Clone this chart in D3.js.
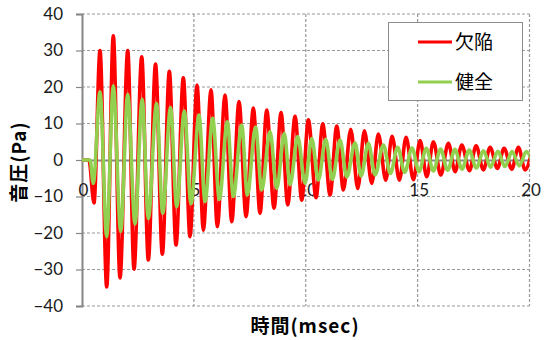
<!DOCTYPE html>
<html>
<head>
<meta charset="utf-8">
<script src="https://cdn.jsdelivr.net/npm/d3@7"></script>
<style>
  html, body { margin: 0; padding: 0; background: #fff; }
  svg { display: block; }
  .tick-label { font-family: Lato, "Noto Sans", sans-serif; font-size: 17px; fill: #1a1a1a; }
  .title { font-family: "Noto Sans CJK JP", sans-serif; font-weight: bold; font-size: 19px; fill: #000; }
  .legend-text { font-family: "Noto Sans CJK JP", sans-serif; font-size: 19px; fill: #000; }
</style>
</head>
<body>
<svg id="chart" width="547" height="340"></svg>
<script>
// Sound pressure waveforms: extrema (time in msec, pressure in Pa)
const defectTime = [0, 0.31, 0.536, 0.805, 1.104, 1.399, 1.699, 2.043, 2.325, 2.669, 2.964, 3.286, 3.590, 3.903, 4.202, 4.528, 4.828, 5.141, 5.423, 5.767, 6.048, 6.393, 6.692, 7.018, 7.331, 7.658, 7.957, 8.257, 8.583, 8.896, 9.195, 9.522, 9.821, 10.116, 10.460, 10.760, 11.086, 11.386, 11.681, 12.012, 12.325, 12.620, 12.951, 13.245, 13.576, 13.858, 14.184, 14.484, 14.810, 15.110, 15.409, 15.704, 16.035, 16.375, 16.674, 16.974, 17.314, 17.613, 17.940, 18.239, 18.565, 18.865, 19.209, 19.504, 19.803, 20.10];
const defectValue = [0, 0, -11.8, 30, -34.8, 34, -32.3, 30, -29.9, 28.3, -27.4, 26.3, -25.8, 24.3, -23.3, 22.5, -21, 20.5, -19.2, 19.2, -18.3, 17.8, -16.9, 16, -15.5, 14.2, -14.6, 13.7, -13.2, 13, -12.3, 12, -11, 11, -10.3, 9.9, -9.6, 9.3, -8.2, 8.4, -7.8, 8, -6.4, 7.1, -5.5, 6.5, -5.5, 6.2, -5.4, 5.3, -4.6, 5, -4.1, 4.6, -3.2, 4.1, -2.9, 3.9, -2.7, 3.5, -2.3, 3.2, -2.5, 3.5, -2.7, 2.3];

const soundTime = [0, 0.36, 0.505, 0.805, 1.104, 1.399, 1.730, 2.043, 2.369, 2.691, 2.964, 3.330, 3.608, 3.956, 4.233, 4.573, 4.873, 5.230, 5.498, 5.843, 6.138, 6.495, 6.764, 7.139, 7.389, 7.756, 8.033, 8.404, 8.704, 9.043, 9.298, 9.642, 9.969, 10.268, 10.563, 10.894, 11.189, 11.533, 11.833, 12.204, 12.472, 12.798, 13.098, 13.469, 13.786, 14.108, 14.426, 14.748, 15.065, 15.387, 15.704, 16.026, 16.343, 16.665, 16.983, 17.305, 17.622, 17.944, 18.261, 18.583, 18.900, 19.222, 19.540, 19.861, 20.16];
const soundValue = [0, 0, -6.4, 18.7, -21, 20.3, -19.6, 18, -17.5, 16.6, -16, 15.5, -14.6, 14.4, -12.8, 13.4, -12, 12.3, -11.4, 11.4, -10.8, 10.5, -10, 9.6, -9.6, 9, -8.2, 7.8, -7.8, 7.3, -6.8, 6.4, -6.4, 5.9, -5.5, 5.7, -5.3, 5.5, -4.7, 4.7, -4.4, 4.6, -4.1, 4.1, -3.7, 3.5, -3.4, 3.3, -3.2, 3.2, -3.0, 3.0, -2.8, 2.9, -2.5, 2.7, -2.2, 2.5, -2.0, 2.4, -1.8, 2.3, -1.6, 2.3, -1.5];

const xTicks = [0, 5, 10, 15, 20];
const yTicks = [-40, -30, -20, -10, 0, 10, 20, 30, 40];
const seriesNames = ["欠陥", "健全"];
const seriesColors = ["#ff0000", "#92d050"];
const xTitle = "時間(msec)";
const yTitle = "音圧(Pa)";

const svg = d3.select("#chart");
const plotL = 82, plotR = 529.5, plotT = 14, plotB = 306;

const x = d3.scaleLinear().domain([0, 20]).range([plotL, plotR]);
const y = d3.scaleLinear().domain([-40, 40]).range([plotB, plotT]);

// dashed grid (including outer frame)
const grid = svg.append("g");
grid.selectAll("line.h").data(yTicks.filter(d => d !== 0)).join("line")
  .attr("x1", plotL).attr("x2", plotR)
  .attr("y1", d => y(d)).attr("y2", d => y(d))
  .attr("stroke", "#9a9a9a").attr("stroke-width", 1.2).attr("stroke-dasharray", "3,2");
grid.selectAll("line.v").data(xTicks.filter(d => d !== 0)).join("line")
  .attr("x1", d => x(d)).attr("x2", d => x(d))
  .attr("y1", plotT).attr("y2", plotB)
  .attr("stroke", "#9a9a9a").attr("stroke-width", 1.2).attr("stroke-dasharray", "3,2");

// y axis with outward ticks
const yAxis = svg.append("g").attr("transform", `translate(${plotL},0)`)
  .call(d3.axisLeft(y).tickValues(yTicks).tickSize(6).tickPadding(13));
yAxis.select(".domain").attr("stroke", "#868686").attr("stroke-width", 2);
yAxis.selectAll(".tick line").attr("stroke", "#868686").attr("stroke-width", 1.2);
yAxis.selectAll(".tick text").attr("class", "tick-label").attr("fill", null);

// zero line carrying the time labels
const xAxis = svg.append("g").attr("transform", `translate(0,${y(0)})`)
  .call(d3.axisBottom(x).tickValues(xTicks).tickSize(0).tickPadding(24));
xAxis.select(".domain").attr("stroke", "#868686").attr("stroke-width", 2);
xAxis.selectAll(".tick text").attr("class", "tick-label").attr("fill", null).attr("dx", 1);

// waveforms
svg.append("clipPath").attr("id", "plot-clip").append("rect")
  .attr("x", plotL).attr("y", plotT - 4).attr("width", plotR - plotL).attr("height", plotB - plotT + 8);

const lineGen = d3.line().x(d => x(d[0])).y(d => y(d[1])).curve(d3.curveMonotoneX);
const series = [
  d3.zip(defectTime, defectValue),
  d3.zip(soundTime, soundValue)
];
const plot = svg.append("g").attr("clip-path", "url(#plot-clip)");
series.forEach((pts, i) => {
  plot.append("path").datum(pts)
    .attr("d", lineGen)
    .attr("fill", "none")
    .attr("stroke", seriesColors[i])
    .attr("stroke-width", 3.6)
    .attr("stroke-linejoin", "round");
});

// legend
const lg = svg.append("g");
lg.append("rect").attr("x", 388.5).attr("y", 22.5).attr("width", 134).attr("height", 78)
  .attr("fill", "#fff").attr("stroke", "#8c8c8c").attr("stroke-width", 1);
seriesNames.forEach((name, i) => {
  const cy = 42 + i * 40;
  lg.append("line").attr("x1", 418).attr("x2", 452).attr("y1", cy).attr("y2", cy)
    .attr("stroke", seriesColors[i]).attr("stroke-width", 3);
  lg.append("text").attr("class", "legend-text").attr("x", 455).attr("y", cy)
    .attr("dy", "0.36em").text(name);
});

// axis titles
svg.append("text").attr("class", "title").attr("x", 305).attr("y", 326)
  .attr("text-anchor", "middle").attr("dy", "0.36em")
  .attr("letter-spacing", "1px").text(xTitle);
svg.append("text").attr("class", "title")
  .attr("transform", "translate(19,162) rotate(-90)")
  .attr("text-anchor", "middle").attr("dy", "0.36em")
  .attr("letter-spacing", "1px").text(yTitle);
</script>
</body>
</html>
